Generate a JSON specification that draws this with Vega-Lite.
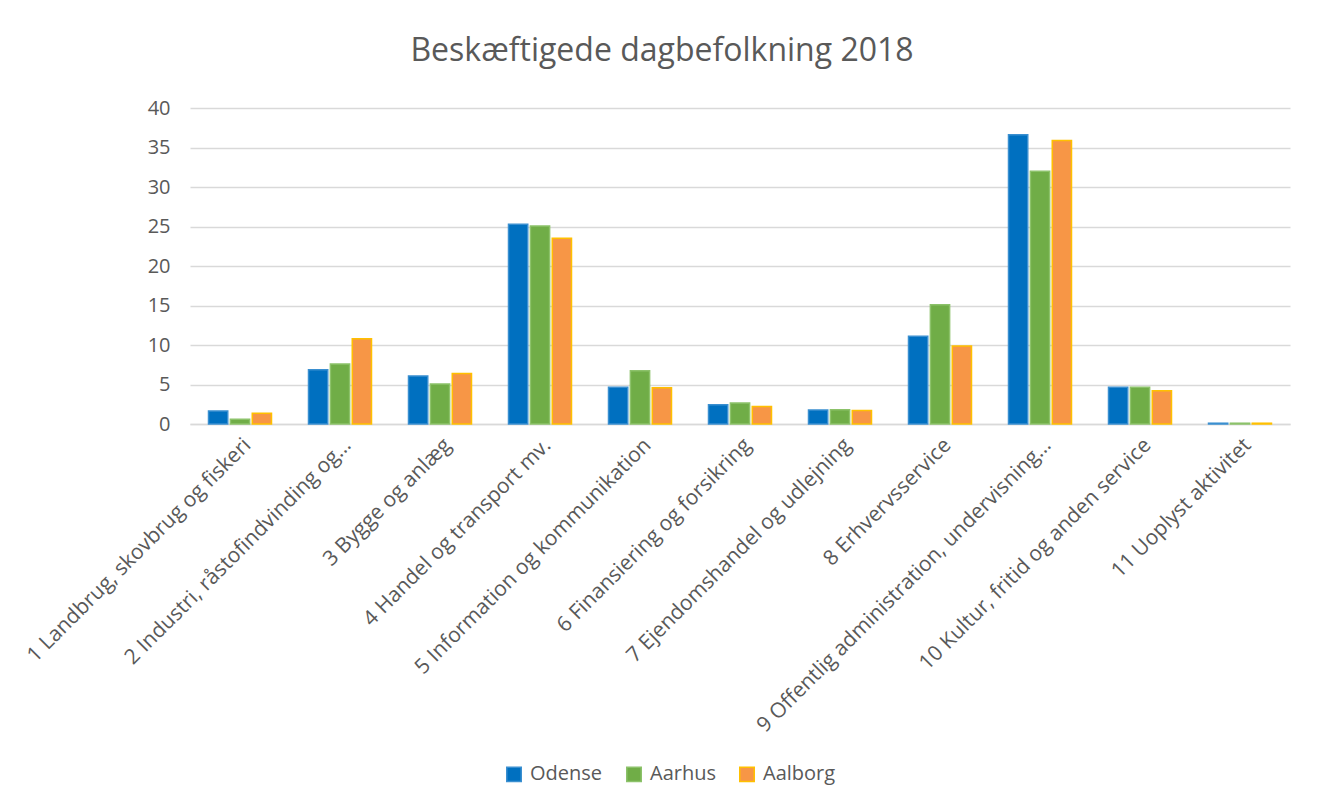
{
  "$schema": "https://vega.github.io/schema/vega-lite/v6.json",
  "autosize": {"type": "none"},
  "padding": {"left": 190, "top": 108, "right": 32, "bottom": 383},
  "width": 1100,
  "height": 316,
  "background": "white",
  "title": {
    "text": "Beskæftigede dagbefolkning 2018",
    "font": "Open Sans",
    "fontSize": 32,
    "fontWeight": "normal",
    "color": "#595959",
    "anchor": "middle",
    "dx": -78,
    "offset": 30
  },
  "data": {
    "values": [
      {"branche": "1 Landbrug, skovbrug og fiskeri", "by": "Odense", "v": 1.65},
      {"branche": "1 Landbrug, skovbrug og fiskeri", "by": "Aarhus", "v": 0.6},
      {"branche": "1 Landbrug, skovbrug og fiskeri", "by": "Aalborg", "v": 1.35},
      {"branche": "2 Industri, råstofindvinding og…", "by": "Odense", "v": 6.87},
      {"branche": "2 Industri, råstofindvinding og…", "by": "Aarhus", "v": 7.6},
      {"branche": "2 Industri, råstofindvinding og…", "by": "Aalborg", "v": 10.8},
      {"branche": "3 Bygge og anlæg", "by": "Odense", "v": 6.08},
      {"branche": "3 Bygge og anlæg", "by": "Aarhus", "v": 5.06},
      {"branche": "3 Bygge og anlæg", "by": "Aalborg", "v": 6.4},
      {"branche": "4 Handel og transport mv.", "by": "Odense", "v": 25.3},
      {"branche": "4 Handel og transport mv.", "by": "Aarhus", "v": 25.05},
      {"branche": "4 Handel og transport mv.", "by": "Aalborg", "v": 23.5},
      {"branche": "5 Information og kommunikation", "by": "Odense", "v": 4.64},
      {"branche": "5 Information og kommunikation", "by": "Aarhus", "v": 6.75},
      {"branche": "5 Information og kommunikation", "by": "Aalborg", "v": 4.6},
      {"branche": "6 Finansiering og forsikring", "by": "Odense", "v": 2.45},
      {"branche": "6 Finansiering og forsikring", "by": "Aarhus", "v": 2.65},
      {"branche": "6 Finansiering og forsikring", "by": "Aalborg", "v": 2.2},
      {"branche": "7 Ejendomshandel og udlejning", "by": "Odense", "v": 1.77},
      {"branche": "7 Ejendomshandel og udlejning", "by": "Aarhus", "v": 1.8},
      {"branche": "7 Ejendomshandel og udlejning", "by": "Aalborg", "v": 1.7},
      {"branche": "8 Erhvervsservice", "by": "Odense", "v": 11.1},
      {"branche": "8 Erhvervsservice", "by": "Aarhus", "v": 15.1},
      {"branche": "8 Erhvervsservice", "by": "Aalborg", "v": 9.87},
      {"branche": "9 Offentlig administration, undervisning…", "by": "Odense", "v": 36.6},
      {"branche": "9 Offentlig administration, undervisning…", "by": "Aarhus", "v": 32.0},
      {"branche": "9 Offentlig administration, undervisning…", "by": "Aalborg", "v": 35.9},
      {"branche": "10 Kultur, fritid og anden service", "by": "Odense", "v": 4.64},
      {"branche": "10 Kultur, fritid og anden service", "by": "Aarhus", "v": 4.64},
      {"branche": "10 Kultur, fritid og anden service", "by": "Aalborg", "v": 4.2},
      {"branche": "11 Uoplyst aktivitet", "by": "Odense", "v": 0.1},
      {"branche": "11 Uoplyst aktivitet", "by": "Aarhus", "v": 0.1},
      {"branche": "11 Uoplyst aktivitet", "by": "Aalborg", "v": 0.1}
    ]
  },
  "mark": {"type": "bar", "strokeWidth": 1.5},
  "encoding": {
    "x": {
      "field": "branche",
      "type": "nominal",
      "sort": null,
      "title": null,
      "scale": {"paddingInner": 0.37, "paddingOuter": 0.185},
      "axis": {
        "labelAngle": -45,
        "labelFont": "Open Sans",
        "labelFontSize": 21,
        "labelColor": "#595959",
        "labelPadding": 10,
        "labelLimit": 600,
        "ticks": false,
        "domainColor": "#d9d9d9",
        "domainWidth": 1.5,
        "grid": false
      }
    },
    "xOffset": {
      "field": "by",
      "type": "nominal",
      "sort": ["Odense", "Aarhus", "Aalborg"],
      "scale": {"paddingInner": 0.12}
    },
    "y": {
      "field": "v",
      "type": "quantitative",
      "title": null,
      "scale": {"domain": [0, 40], "nice": false},
      "axis": {
        "values": [0, 5, 10, 15, 20, 25, 30, 35, 40],
        "labelFont": "Open Sans",
        "labelFontSize": 20,
        "labelColor": "#595959",
        "labelPadding": 20,
        "ticks": false,
        "domain": false,
        "gridColor": "#d9d9d9",
        "gridWidth": 1.5
      }
    },
    "fill": {
      "field": "by",
      "type": "nominal",
      "sort": ["Odense", "Aarhus", "Aalborg"],
      "scale": {"domain": ["Odense", "Aarhus", "Aalborg"], "range": ["#0070C0", "#70AD47", "#F79646"]},
      "legend": {
        "title": null,
        "orient": "none",
        "direction": "horizontal",
        "legendX": 314,
        "legendY": 656,
        "symbolType": "square",
        "symbolSize": 210,
        "symbolOpacity": 1,
        "labelFont": "Open Sans",
        "labelFontSize": 20,
        "labelColor": "#595959",
        "columnPadding": 20,
        "labelOffset": 6
      }
    },
    "stroke": {
      "field": "by",
      "type": "nominal",
      "sort": ["Odense", "Aarhus", "Aalborg"],
      "scale": {"domain": ["Odense", "Aarhus", "Aalborg"], "range": ["#3a8fd0", "#8cc26a", "#FFC000"]},
      "legend": {
        "title": null,
        "orient": "none",
        "direction": "horizontal",
        "legendX": 314,
        "legendY": 656,
        "symbolType": "square",
        "symbolSize": 210,
        "labelFont": "Open Sans",
        "labelFontSize": 20,
        "labelColor": "#595959",
        "columnPadding": 20,
        "labelOffset": 6
      }
    }
  },
  "config": {"view": {"stroke": null}}
}
